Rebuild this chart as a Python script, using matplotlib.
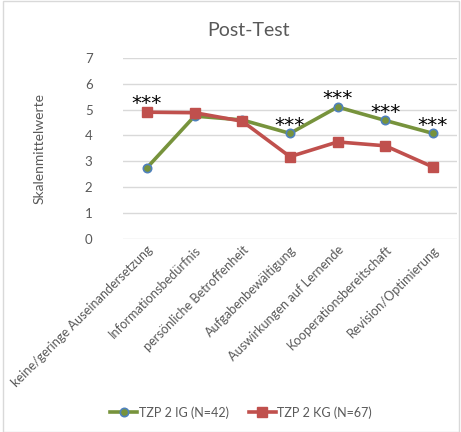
import numpy as np
import matplotlib
matplotlib.use("Agg")
from matplotlib import pyplot as plt
from matplotlib.patches import Rectangle

categories = ["keine/geringe Auseinandersetzung", "Informationsbedürfnis",
              "persönliche Betroffenheit", "Aufgabenbewältigung",
              "Auswirkungen auf Lernende", "Kooperationsbereitschaft",
              "Revision/Optimierung"]
ig_values = [2.75, 4.75, 4.6, 4.08, 5.1, 4.58, 4.08]
kg_values = [4.9, 4.88, 4.55, 3.18, 3.75, 3.6, 2.78]
sig_marks = ["***", "", "", "***", "***", "***", "***"]

plt.rcParams['font.family'] = ['Lato', 'DejaVu Sans']
grey = '#595959'

fig = plt.figure(figsize=(4.61, 4.32), dpi=100)
ax = fig.add_axes([0.267, 0.447, 0.724, 0.419])
x = np.arange(len(categories))

ax.plot(x, ig_values, color='#77933C', lw=2.6, marker='o', ms=6,
        mfc='#77933C', mec='#4F81BD', mew=1.2, label='TZP 2 IG (N=42)', zorder=3)
ax.plot(x, kg_values, color='#C0504D', lw=2.6, marker='s', ms=6.5,
        mfc='#C0504D', mec='#C0504D', label='TZP 2 KG (N=67)', zorder=3)

# significance stars over the higher point
for i, s in enumerate(sig_marks):
    if s:
        top = max(ig_values[i], kg_values[i])
        ax.text(x[i], top + 0.32, s, ha='center', va='center', fontsize=14.5,
                color='black', family='DejaVu Sans')

ax.set_xlim(-0.5, len(categories) - 0.5)
ax.set_ylim(0, 7)
ax.set_yticks(range(0, 8))
ax.yaxis.grid(True, color='#D9D9D9', lw=1)
ax.set_axisbelow(True)
for sp in ax.spines.values():
    sp.set_visible(False)
ax.tick_params(axis='both', length=0, colors=grey, labelsize=9.2)
ax.tick_params(axis='y', pad=22, labelsize=9.5)
ax.set_xticks(x)
ax.set_xticklabels(categories, rotation=45, ha='right', rotation_mode='anchor')

ax.set_ylabel('Skalenmittelwerte', color=grey, fontsize=10, labelpad=28)
fig.text(0.54, 0.93, 'Post-Test', ha='center', va='center', fontsize=14, color=grey)

fig.legend(loc='center', bbox_to_anchor=(0.523, 0.045), ncol=2, frameon=False,
           fontsize=9, labelcolor=grey, handlelength=2.2, columnspacing=1.6,
           handletextpad=0.1)

fig.patches.append(Rectangle((0.006, 0.0), 0.99, 0.998, transform=fig.transFigure,
                             fill=False, ec='#D9D9D9', lw=1))

fig.savefig('out.png', dpi=100)
